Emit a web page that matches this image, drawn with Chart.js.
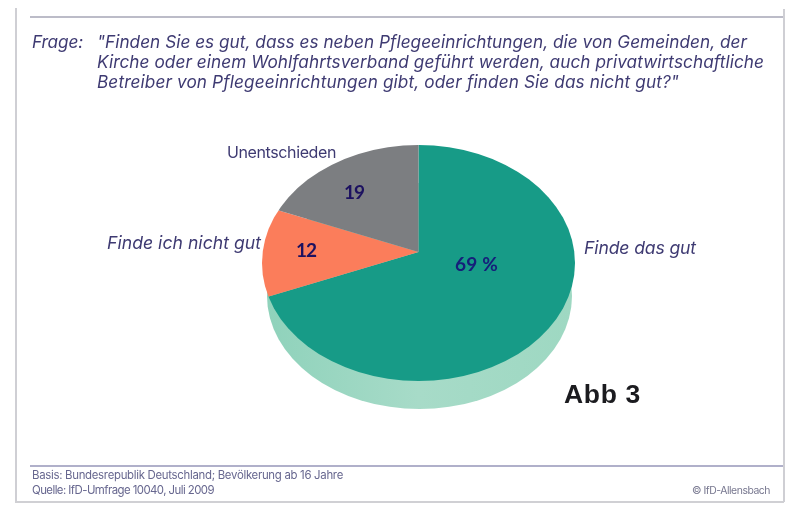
<!DOCTYPE html>
<html lang="de">
<head>
<meta charset="utf-8">
<script src="https://cdn.jsdelivr.net/npm/chart.js@4/dist/chart.umd.js"></script>
<style>
html,body{margin:0;padding:0;background:#fff;width:800px;height:521px;overflow:hidden}
#wrap{position:relative;width:800px;height:521px}
canvas{position:absolute;left:0;top:0}
.rule{position:absolute;background:#bcbcc8;filter:blur(.4px)}
.t{position:absolute;white-space:pre;font-family:Inter,sans-serif;line-height:1;filter:blur(.35px)}
.q{font-size:17.2px;font-style:italic;color:#3e3a72}
.f{font-size:11.4px;color:#67678f}
</style>
</head>
<body>
<div id="wrap">
<canvas id="c" width="800" height="521"></canvas>
<div class="rule" style="left:15px;top:8px;width:1.5px;height:493px;background:#cfcfd4"></div>
<div class="rule" style="left:30px;top:16px;width:753px;height:1.5px"></div>
<div class="rule" style="left:783px;top:9px;width:1.5px;height:493px;background:#cfcfd4"></div>
<div class="rule" style="left:30px;top:465px;width:753px;height:1.5px;background:#b0b0ca"></div>
<div class="rule" style="left:15px;top:501px;width:769px;height:1.5px;background:#d0d0d4"></div>
</div>
<script>
const categories = ["Finde das gut", "Finde ich nicht gut", "Unentschieden"];
const shares = [69, 12, 19];
const sliceColors = ["#179b87", "#fb7d5b", "#7c7e81"];
const questionLines = [
  "\"Finden Sie es gut, dass es neben Pflegeeinrichtungen, die von Gemeinden, der",
  "Kirche oder einem Wohlfahrtsverband gef\u00FChrt werden, auch privatwirtschaftliche",
  "Betreiber von Pflegeeinrichtungen gibt, oder finden Sie das nicht gut?\""
];
const footerLines = [
  "Basis: Bundesrepublik Deutschland; Bev\u00F6lkerung ab 16 Jahre",
  "Quelle: IfD-Umfrage 10040, Juli 2009"
];

// Overlay text, each line fitted to the width it has in the reference
const wrap = document.getElementById('wrap');
function addText(txt, cls, x, yMid, w, extra) {
  const d = document.createElement('div');
  d.className = 't ' + cls; d.textContent = txt;
  d.style.left = x + 'px';
  if (extra) d.style.cssText += extra;
  wrap.appendChild(d);
  d.style.top = (yMid - d.offsetHeight / 2) + 'px';
  const m = d.getBoundingClientRect().width;
  d.style.letterSpacing = ((w - m) / txt.length) + 'px';
}
addText("Frage:", 'q', 32, 41.5, 51);
addText(questionLines[0], 'q', 97, 41.5, 650);
addText(questionLines[1], 'q', 97, 61.5, 667);
addText(questionLines[2], 'q', 97, 81.5, 582);
addText(footerLines[0], 'f', 32, 475, 311);
addText(footerLines[1], 'f', 32, 490.5, 182);
addText("\u00A9 IfD-Allensbach", 'f', 692, 490.5, 78, 'color:#77778f;font-size:10.4px');
addText("Abb 3", '', 564, 394.5, 77, 'font-family:"Liberation Sans";font-weight:bold;font-size:26.5px;color:#1b1b1f');

// The face is a tilted ellipse whose hub sits above its middle, as in the reference
const TILT = 0.75, RX = 156.5, RY = 118, HUB_DROP = 11, DEPTH_RX = 152.5, DEPTH_RY = 113, DEPTH_DROP = 44, DEPTH_SHIFT = 1;

const pie3d = {
  id: 'pie3d',
  beforeDatasetsDraw(chart) {
    const { ctx } = chart, arc = chart.getDatasetMeta(0).data[0];
    const cx = arc.x, cy = arc.y;
    // side wall
    const g = ctx.createLinearGradient(cx - DEPTH_RX, 0, cx + DEPTH_RX, 0);
    g.addColorStop(0, '#8fd2bb'); g.addColorStop(.5, '#a7dbc8'); g.addColorStop(1, '#9ed8c2');
    ctx.save();
    ctx.fillStyle = g;
    ctx.beginPath();
    ctx.ellipse(cx + DEPTH_SHIFT, cy + DEPTH_DROP, DEPTH_RX, DEPTH_RY, 0, 0, Math.PI * 2);
    ctx.fill();
    ctx.restore();
    // face
    ctx.save();
    ctx.beginPath();
    ctx.ellipse(cx, cy + HUB_DROP, RX, RY, 0, 0, Math.PI * 2);
    ctx.clip();
    ctx.translate(cx, cy); ctx.scale(1, TILT); ctx.translate(-cx, -cy);
  },
  afterDatasetsDraw(chart) {
    const { ctx } = chart;
    ctx.restore();
    const put = (txt, x, y, w, font, color) => {
      ctx.save();
      ctx.font = font; ctx.fillStyle = color;
      ctx.textAlign = 'left'; ctx.textBaseline = 'middle';
      ctx.letterSpacing = '0px';
      const m = ctx.measureText(txt).width;
      ctx.letterSpacing = ((w - m) / txt.length) + 'px';
      ctx.fillText(txt, x, y);
      ctx.restore();
    };
    const labelFont = 'italic 17.6px Inter, sans-serif', labelColor = '#3e3a72';
    put(categories[0], 584, 248.5, 112, labelFont, labelColor);
    put(categories[1], 107, 243.5, 154, labelFont, labelColor);
    put(categories[2], 227, 153.5, 109, '16px Inter, sans-serif', labelColor);
    const valueFont = 'bold 19px Lato, sans-serif';
    put(shares[0] + ' %', 455, 265, 43, valueFont, '#15207a');
    put(String(shares[1]), 296, 250.5, 20, valueFont, '#1c1160');
    put(String(shares[2]), 344, 192.5, 20, valueFont, '#1c1160');
  }
};

new Chart(document.getElementById('c'), {
  type: 'pie',
  data: {
    labels: categories,
    datasets: [{ data: shares, backgroundColor: sliceColors, borderWidth: 0 }]
  },
  options: {
    responsive: false,
    animation: false,
    events: [],
    layout: { padding: { left: 238.5, right: 201.5, top: 72, bottom: 89 } },
    plugins: { legend: { display: false }, tooltip: { enabled: false }, title: { display: false } }
  },
  plugins: [pie3d]
});
</script>
</body>
</html>
